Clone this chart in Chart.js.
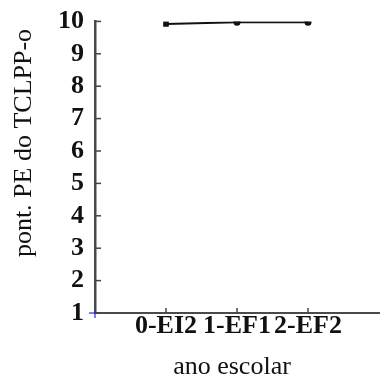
<!DOCTYPE html>
<html>
<head>
<meta charset="utf-8">
<script src="https://cdn.jsdelivr.net/npm/chart.js@4/dist/chart.umd.min.js"></script>
<style>
  html, body { margin: 0; padding: 0; background: #fff; }
  #wrap { width: 383px; height: 379px; position: relative; }
</style>
</head>
<body>
<div id="wrap"><canvas id="c"></canvas></div>
<script>
const categories = ['0-EI2', '1-EF1', '2-EF2'];
const values = [9.92, 9.97, 9.97];
const yTicks = [1, 2, 3, 4, 5, 6, 7, 8, 9, 10];
const yTitle = 'pont. PE do TCLPP-o';
const xTitle = 'ano escolar';

const points = categories.map((c, i) => ({ x: i + 1, y: values[i] }));

const axisDecor = {
  id: 'axisDecor',
  afterDraw(chart) {
    const ctx = chart.ctx;
    const xs = chart.scales.x, ys = chart.scales.y;
    const axisX = xs.left, axisY = ys.bottom;
    ctx.save();
    ctx.strokeStyle = '#444';
    ctx.lineWidth = 1.5;
    yTicks.forEach(v => {
      const py = ys.getPixelForValue(v);
      ctx.beginPath(); ctx.moveTo(axisX, py); ctx.lineTo(axisX + 6, py); ctx.stroke();
    });
    categories.forEach((c, i) => {
      const px = xs.getPixelForValue(i + 1);
      ctx.beginPath(); ctx.moveTo(px, axisY); ctx.lineTo(px, axisY - 5); ctx.stroke();
    });
    // small blue mark at origin
    ctx.strokeStyle = '#2a2ad0';
    ctx.lineWidth = 1.2;
    ctx.beginPath(); ctx.moveTo(axisX - 6, axisY); ctx.lineTo(axisX + 2, axisY); ctx.stroke();
    ctx.beginPath(); ctx.moveTo(axisX, axisY - 2); ctx.lineTo(axisX, axisY + 5); ctx.stroke();

    // axis titles
    ctx.fillStyle = '#111';
    ctx.font = '26px "Liberation Serif"';
    ctx.textAlign = 'center';
    ctx.textBaseline = 'middle';
    ctx.fillText(xTitle, (xs.left + xs.right) / 2 - 5, ys.bottom + 54);
    ctx.translate(24, 143);
    ctx.rotate(-Math.PI / 2);
    ctx.fillText(yTitle, 0, 0);
    ctx.restore();
  }
};

new Chart(document.getElementById('c'), {
  type: 'line',
  data: {
    datasets: [{
      data: points,
      borderColor: '#111',
      borderWidth: 2,
      backgroundColor: '#111',
      pointStyle: ['rect', 'circle', 'circle'],
      pointRadius: [4, 3.5, 3.5],
      pointBorderWidth: 0,
      tension: 0,
      fill: false
    }]
  },
  options: {
    responsive: true,
    maintainAspectRatio: false,
    animation: false,
    layout: { padding: { top: 0, right: 0, left: 0, bottom: 0 } },
    plugins: { legend: { display: false }, tooltip: { enabled: false } },
    scales: {
      x: {
        type: 'linear',
        min: 0, max: 4,
        afterFit: s => { s.height = 66; },
        afterBuildTicks: s => { s.ticks = [0, 1, 2, 3, 4].map(v => ({ value: v })); },
        ticks: {
          autoSkip: false,
          maxRotation: 0,
          padding: 0,
          color: '#111',
          font: { family: 'Liberation Serif', size: 26, weight: 'bold', lineHeight: 1 },
          callback: v => categories[v - 1] || ''
        },
        grid: { display: true, drawOnChartArea: false, drawTicks: false, color: 'rgba(0,0,0,0)' },
        border: { display: true, color: '#4a4a4a', width: 2 }
      },
      y: {
        min: 1, max: 10,
        afterFit: s => { s.width = 95; },
        afterBuildTicks: s => { s.ticks = yTicks.map(v => ({ value: v })); },
        ticks: {
          padding: 11,
          color: '#111',
          font: { family: 'Liberation Serif', size: 26, weight: 'bold', lineHeight: 0.8 }
        },
        grid: { display: true, drawOnChartArea: false, drawTicks: false, color: 'rgba(0,0,0,0)' },
        border: { display: true, color: '#4a4a4a', width: 2.5 }
      }
    }
  },
  plugins: [axisDecor]
});
</script>
</body>
</html>
